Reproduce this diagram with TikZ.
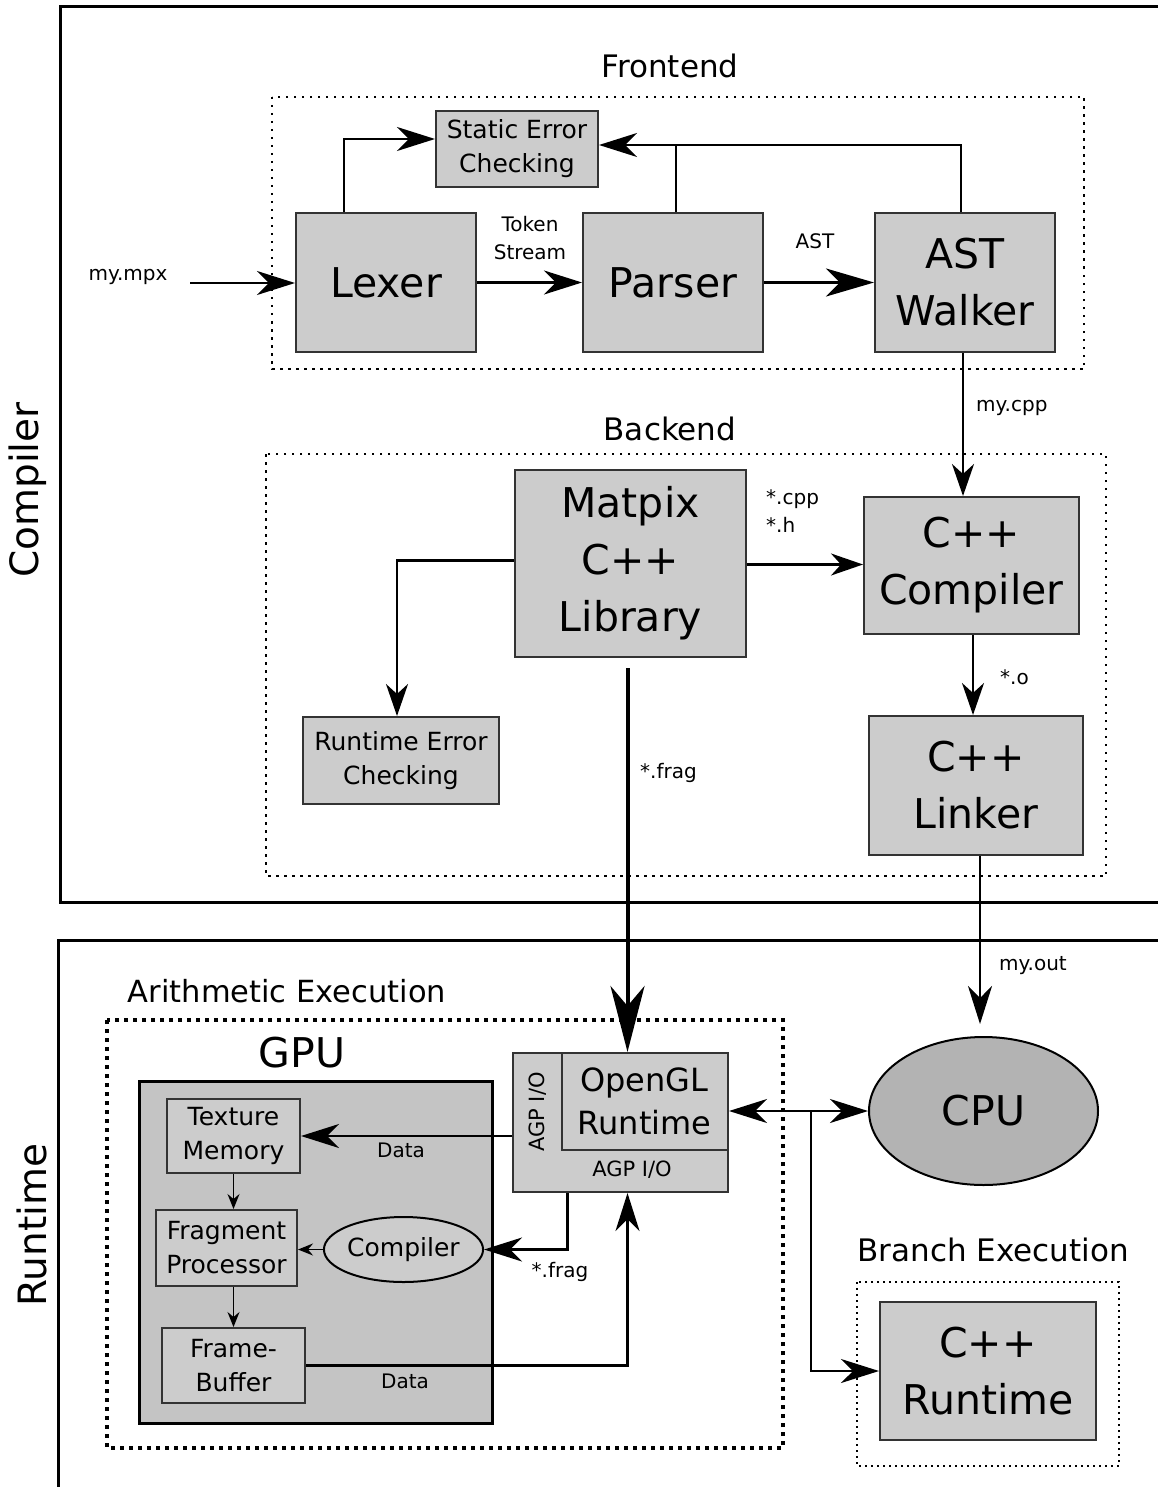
\documentclass[tikz,border=0pt]{standalone}
\usepackage{fontspec}
\setmainfont{DejaVu Sans}
\usetikzlibrary{arrows.meta,shapes.geometric}
\definecolor{boxgray}{HTML}{CCCCCC}
\definecolor{gpugray}{HTML}{C4C4C4}
\definecolor{cpugray}{HTML}{B3B3B3}
\begin{document}
\begin{tikzpicture}[x=1pt,y=-1pt,
  box/.style={draw=black!80, line width=2pt, fill=boxgray, inner sep=0pt, align=center},
  big/.style={font=\fontsize{41}{57}\selectfont},
  mid/.style={font=\fontsize{25}{34}\selectfont},
  lbl/.style={font=\fontsize{20}{28}\selectfont, align=center, inner sep=0pt},
  title/.style={font=\fontsize{31}{38}\selectfont, inner sep=0pt},
  arr/.style={line width=2.5pt, -{Stealth[length=38pt,width=24pt,inset=12pt]}},
  arrm/.style={line width=2.5pt, -{Stealth[length=32pt,width=22pt,inset=10pt]}},
  arrb/.style={line width=3pt, -{Stealth[length=48pt,width=28pt,inset=14pt]}},
  arrh/.style={line width=4pt, -{Stealth[length=66pt,width=34pt,inset=20pt]}},
  arrs/.style={line width=1.5pt, -{Stealth[length=15pt,width=12pt,inset=5pt]}},
  dotsa/.style={line width=2.5pt, dash pattern=on 2.5pt off 5.5pt},
  dotsb/.style={line width=4pt, dash pattern=on 4pt off 5pt},
  dotsc/.style={line width=2pt, dash pattern=on 2pt off 4pt}
]
\useasboundingbox (0,0) rectangle (1158,1487);
\clip (0,0) rectangle (1158,1487);

% outer frames
\draw[line width=3pt] (60,7) rectangle (1180,902);
\draw[line width=3pt] (58,940) rectangle (1180,1510);
\node[rotate=90, font=\fontsize{39}{45}\selectfont] (tcomp) at (28,490) {Compiler};
\node[rotate=90, font=\fontsize{39}{45}\selectfont] (trun) at (32,1225) {Runtime};

% ---------------- Frontend
\node[title] (tfront) at (670,66) {Frontend};
\draw[dotsa] (272,97) rectangle (1084,369);
\node[box, mid, minimum width=162pt, minimum height=76pt] (sec) at (517,149) {Static Error\\Checking};
\node[box, big, minimum width=180pt, minimum height=139pt] (lexer) at (386,282.5) {Lexer};
\node[box, big, minimum width=180pt, minimum height=139pt] (parser) at (673,282.5) {Parser};
\node[box, big, minimum width=180pt, minimum height=139pt] (ast) at (965,282.5) {AST\\Walker};

\coordinate (mpx) at (190,283);
\node[lbl] (lmpx) at (128,277) {my.mpx};
\draw[arr] (mpx) -- (lexer.west |- mpx);
\draw[arr] (lexer.east) -- (parser.west);
\node[lbl] (ltok) at (530,238) {Token\\Stream};
\draw[arrb] (parser.east) -- (ast.west);
\node[lbl] (last) at (815,241) {AST};
\draw[arr] ([xshift=-42pt]lexer.north) |- ([yshift=10pt]sec.west);
\coordinate (secE) at ([yshift=4pt]sec.east);
\draw[arr] ([xshift=-4pt]ast.north) |- (secE);
\draw[line width=2.5pt] ([xshift=3pt]parser.north) -- ([xshift=3pt]parser.north |- secE);

% ---------------- Backend
\node[title] (tback) at (670,429) {Backend};
\draw[dotsa] (266,454) rectangle (1106,876);
\node[box, big, minimum width=231pt, minimum height=187pt] (matpix) at (630.5,563.5) {Matpix\\C++\\Library};
\node[box, big, minimum width=215pt, minimum height=137pt] (cppc) at (971.5,565.5) {C++\\Compiler};
\node[box, mid, minimum width=196pt, minimum height=87pt] (rec) at (401,760.5) {Runtime Error\\Checking};
\node[box, big, minimum width=214pt, minimum height=139pt] (linker) at (976,785.5) {C++\\Linker};

\draw[arrm] ([xshift=-2pt]ast.south) -- ([xshift=-2pt]ast.south |- cppc.north);
\node[lbl, anchor=west] (lcpp) at (976,408) {my.cpp};
\draw[arrm] ([yshift=-1pt]matpix.east) -- ([yshift=-1pt]matpix.east -| cppc.west);
\node[lbl, anchor=west, align=left] (lch) at (766,511) {*.cpp\\*.h};
\draw[arrm] ([yshift=3pt]matpix.west) -| ([xshift=-4pt]rec.north);
\draw[arrm] ([xshift=1.5pt]cppc.south) -- ([xshift=1.5pt]cppc.south |- linker.north);
\node[lbl, anchor=west] (lo) at (1000,677) {*.o};
\node[lbl, anchor=west] (lfrag) at (640,773) {*.frag};

% ---------------- Runtime
\node[font=\fontsize{30.5}{38}\selectfont, inner sep=0pt] (tarith) at (287,991) {Arithmetic Execution};
\draw[dotsb] (107,1020) rectangle (783,1448);
\node[font=\fontsize{41}{50}\selectfont, inner sep=0pt] (tgpu) at (302,1053) {GPU};
\node[draw=black, line width=3pt, fill=gpugray, minimum width=353pt, minimum height=342pt] (gpu) at (316,1252) {};
\node[box, mid, minimum width=133pt, minimum height=74pt] (tex) at (233.5,1136) {Texture\\Memory};
\node[box, mid, minimum width=141pt, minimum height=76pt] (frag) at (226.5,1248) {Fragment\\Processor};
\node[box, mid, minimum width=143pt, minimum height=75pt] (fb) at (233.5,1365.5) {Frame-\\Buffer};
\node[ellipse, draw=black, line width=2pt, fill=boxgray, mid, minimum width=143pt, minimum height=65pt, inner sep=0pt] (comp) at (403.5,1249.5) {Compiler};

\node[box, minimum width=215pt, minimum height=139pt] (ogl) at (620.5,1122.5) {};
\node[box, font=\fontsize{32}{43}\selectfont, minimum width=166pt, minimum height=97pt] (ogli) at (644.5,1101.5) {OpenGL\\Runtime};
\node[lbl, font=\fontsize{21}{26}\selectfont, rotate=90] (agp1) at (538,1112) {AGP I/O};
\node[lbl, font=\fontsize{21}{26}\selectfont] (agp2) at (632,1170) {AGP I/O};

\node[ellipse, draw=black, line width=2pt, fill=cpugray, big, minimum width=229pt, minimum height=148pt, inner sep=0pt] (cpu) at (983.5,1111) {CPU};

\node[title] (tbranch) at (993,1250) {Branch Execution};
\draw[dotsc] (857,1282) rectangle (1119,1466);
\node[box, big, minimum width=216pt, minimum height=138pt] (cppr) at (988,1371) {C++\\Runtime};

% connectors runtime
\draw[arrh, shorten <=10pt] ([xshift=-3pt]matpix.south) -- ([xshift=-3pt]matpix.south |- ogl.north);
\draw[arr] ([xshift=4pt]linker.south) -- ([xshift=4pt,yshift=12pt]linker.south |- cpu.north);
\node[lbl, anchor=west] (lout) at (999,966) {my.out};

\draw[arr] (ogl.west |- tex.east) -- (tex.east);
\node[lbl] (ldata1) at (401,1150) {Data};
\draw[arr] ([xshift=-53pt]ogl.south) |- (comp.east);
\node[lbl] (lfrag2) at (560,1272) {*.frag};
\draw[arr] (fb.east) -| ([xshift=7pt]ogl.south);
\node[lbl] (ldata2) at (405,1381) {Data};
\draw[arrs] (tex.south) -- (tex.south |- frag.north);
\draw[arrs] (fb.north |- frag.south) -- (fb.north);
\draw[arrs] (comp.west) -- (comp.west -| frag.east);

\draw[line width=2.5pt, {Stealth[length=38pt,width=24pt,inset=12pt]}-{Stealth[length=38pt,width=24pt,inset=12pt]}] (cpu.west -| ogl.east) -- (cpu.west);
\coordinate (br) at (811,1111);
\draw[arr] (br) |- (cppr.west);
\end{tikzpicture}
\end{document}
